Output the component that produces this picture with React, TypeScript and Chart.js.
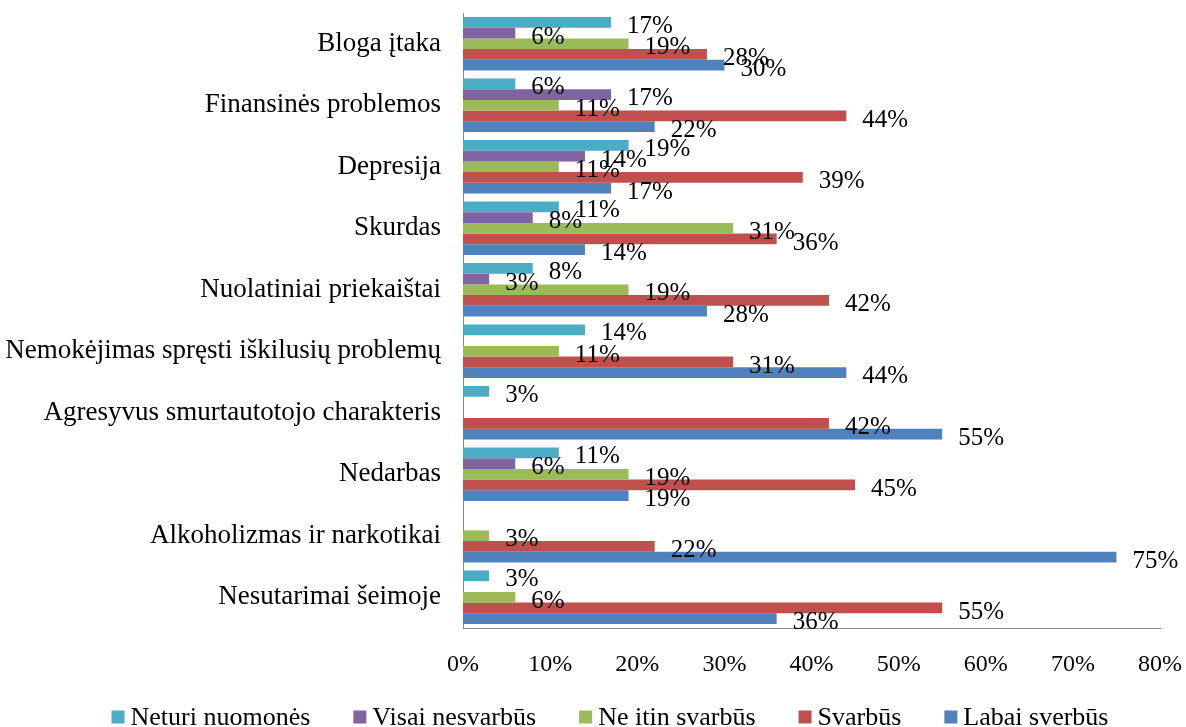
import React, { useEffect, useRef } from "react";
import { Chart, registerables } from "chart.js";

Chart.register(...registerables);

const categories = [
  "Bloga įtaka",
  "Finansinės problemos",
  "Depresija",
  "Skurdas",
  "Nuolatiniai priekaištai",
  "Nemokėjimas spręsti iškilusių problemų",
  "Agresyvus smurtautotojo charakteris",
  "Nedarbas",
  "Alkoholizmas ir narkotikai",
  "Nesutarimai šeimoje",
];

const seriesNames = [
  "Neturi nuomonės",
  "Visai nesvarbūs",
  "Ne itin svarbūs",
  "Svarbūs",
  "Labai sverbūs",
];

const neturiNuomones = [17, 6, 19, 11, 8, 14, 3, 11, null, 3];
const visaiNesvarbus = [6, 17, 14, 8, 3, null, null, 6, null, null];
const neItinSvarbus = [19, 11, 11, 31, 19, 11, null, 19, 3, 6];
const svarbus = [28, 44, 39, 36, 42, 31, 42, 45, 22, 55];
const labaiSvarbus = [30, 22, 17, 14, 28, 44, 55, 19, 75, 36];

const seriesColors = ["#4BACC6", "#8064A2", "#9BBB59", "#C0504D", "#4F81BD"];

const xMin = 0;
const xMax = 80;
const xStep = 10;

const SERIF = '"Liberation Serif", "Times New Roman", serif';

const dataLabelPlugin = {
  id: "dataLabels",
  afterDatasetsDraw(chart: any) {
    const ctx = chart.ctx;
    ctx.save();
    ctx.font = `25px ${SERIF}`;
    ctx.fillStyle = "#000";
    ctx.textAlign = "left";
    ctx.textBaseline = "middle";
    chart.data.datasets.forEach((ds: any, di: number) => {
      const meta = chart.getDatasetMeta(di);
      meta.data.forEach((el: any, i: number) => {
        const v = ds.data[i];
        if (v === null || v === undefined) return;
        ctx.fillText(v + "%", el.x + 16, el.y + 4);
      });
    });
    ctx.restore();
  },
};

const legendPlugin = {
  id: "customLegend",
  afterDraw(chart: any) {
    const ctx = chart.ctx;
    ctx.save();
    ctx.font = `26px ${SERIF}`;
    const box = 13;
    const boxGap = 6;
    const itemGap = 43;
    const items = chart.data.datasets.map((ds: any) => ({
      label: ds.label,
      color: ds.backgroundColor,
      w: box + boxGap + ctx.measureText(ds.label).width,
    }));
    const total =
      items.reduce((s: number, it: any) => s + it.w, 0) + itemGap * (items.length - 1);
    let x = 610 - total / 2;
    const y = 717;
    items.forEach((it: any) => {
      ctx.fillStyle = it.color;
      ctx.fillRect(x, y - box / 2, box, box);
      ctx.fillStyle = "#000";
      ctx.textAlign = "left";
      ctx.textBaseline = "middle";
      ctx.fillText(it.label, x + box + boxGap, y + 1);
      x += it.w + itemGap;
    });
    ctx.restore();
  },
};

function zeroPadding(scale: any) {
  scale.paddingLeft = 0;
  scale.paddingRight = 0;
  scale.paddingTop = 0;
  scale.paddingBottom = 0;
}

export default function App() {
  const canvasRef = useRef<HTMLCanvasElement | null>(null);

  useEffect(() => {
    const canvas = canvasRef.current;
    if (!canvas) return;
    const allSeries = [neturiNuomones, visaiNesvarbus, neItinSvarbus, svarbus, labaiSvarbus];
    const chart = new Chart(canvas, {
      type: "bar",
      data: {
        labels: categories,
        datasets: allSeries.map((d, i) => ({
          label: seriesNames[i],
          data: d,
          backgroundColor: seriesColors[i],
          borderWidth: 0,
          categoryPercentage: 0.87,
          barPercentage: 1.0,
        })),
      },
      options: {
        indexAxis: "y",
        animation: false,
        responsive: false,
        devicePixelRatio: 1,
        layout: { padding: { left: 0, right: 26, top: 13, bottom: 49 } },
        plugins: {
          legend: { display: false },
          tooltip: { enabled: false },
          title: { display: false },
        },
        scales: {
          x: {
            type: "linear",
            min: xMin,
            max: xMax,
            ticks: {
              stepSize: xStep,
              callback: (v: any) => v + "%",
              font: { family: SERIF, size: 24 },
              color: "#000",
              padding: 22,
            },
            grid: { display: false, drawTicks: false },
            border: { display: true, color: "#888888", width: 1 },
            afterFit: (scale: any) => {
              scale.height = 50;
              zeroPadding(scale);
            },
          },
          y: {
            type: "category",
            ticks: {
              font: { family: SERIF, size: 27 },
              color: "#000",
              padding: 22,
              autoSkip: false,
            },
            grid: { display: false, drawTicks: false },
            border: { display: true, color: "#888888", width: 1 },
            afterFit: (scale: any) => {
              scale.width = 463;
              zeroPadding(scale);
            },
          },
        },
      },
      plugins: [dataLabelPlugin, legendPlugin],
    } as any);
    return () => chart.destroy();
  }, []);

  return (
    <div style={{ position: "fixed", left: 0, top: 0, width: 1186, height: 727, background: "#fff" }}>
      <canvas ref={canvasRef} width={1186} height={727} style={{ display: "block" }} />
    </div>
  );
}
